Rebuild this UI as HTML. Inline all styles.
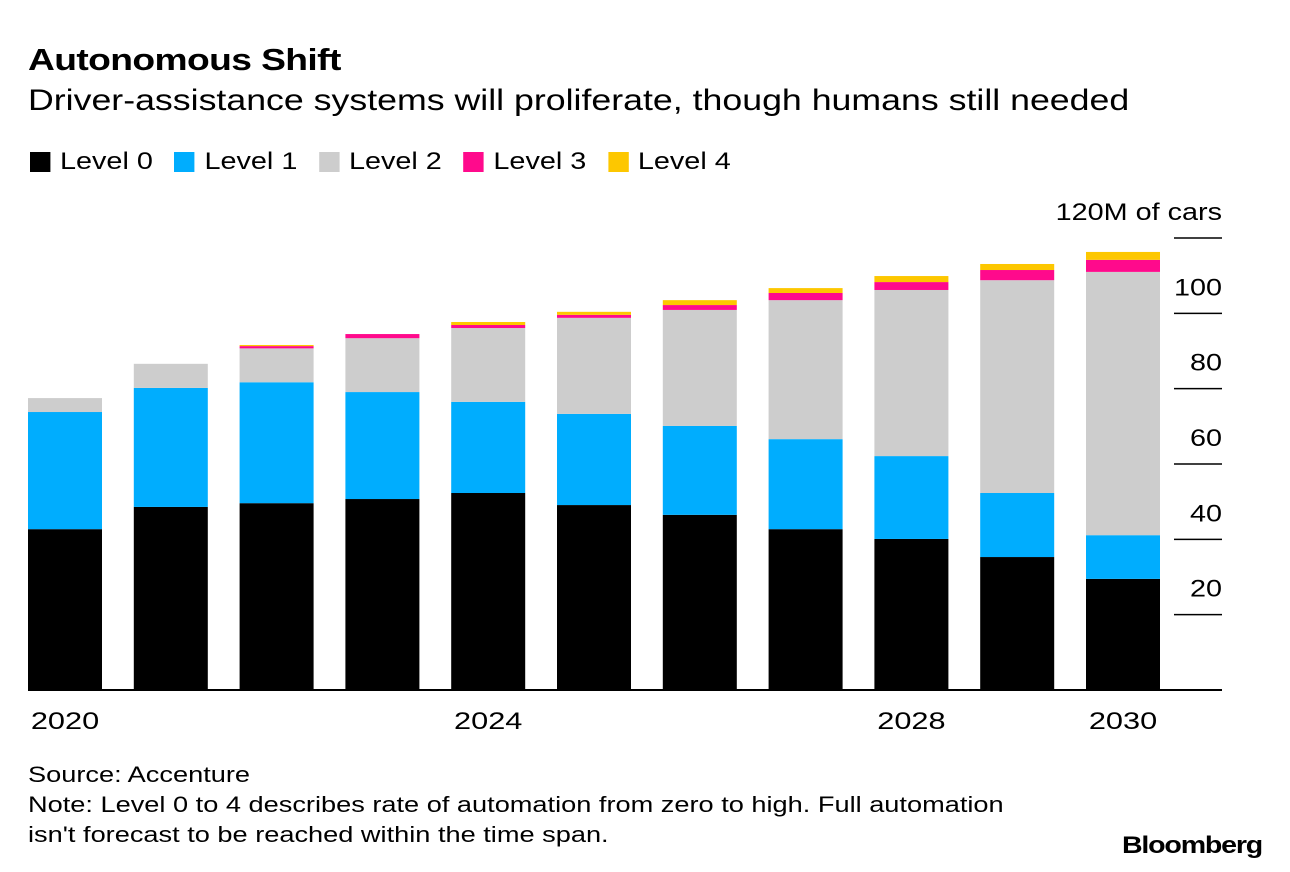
<!DOCTYPE html>
<html><head><meta charset="utf-8"><style>
body{margin:0;background:#fff;font-family:"Liberation Sans",sans-serif;}
#wrap{position:relative;width:1290px;height:872px;overflow:hidden;}
.t{position:absolute;white-space:nowrap;color:#000;transform-origin:0 0;}
</style></head><body><div id="wrap">
<div class="t" style="left:28px;top:42px;font-size:31px;font-weight:bold;letter-spacing:-0.5px;transform:scaleX(1.2)">Autonomous Shift</div>
<div class="t" style="left:28px;top:84px;font-size:30px;transform:scaleX(1.19)">Driver-assistance systems will proliferate, though humans still needed</div>
<div id="legend" style="position:absolute;left:30px;top:148px;font-size:24px;display:flex;gap:0;transform-origin:0 0;transform:scaleX(1.2)"></div>
<svg id="chart" width="1290" height="872" style="position:absolute;left:0;top:0"></svg>
<div class="t" style="left:28px;top:760px;font-size:22px;line-height:30px;transform:scaleX(1.235)">Source: Accenture<br>Note: Level 0 to 4 describes rate of automation from zero to high. Full automation<br>isn't forecast to be reached within the time span.</div>
<div class="t" style="left:1122px;top:832px;font-size:24px;font-weight:bold;letter-spacing:-1px;transform:scaleX(1.19)">Bloomberg</div>
</div>
<script>
const years=[2020,2021,2022,2023,2024,2025,2026,2027,2028,2029,2030];
const xLabels=["2020","","","","2024","","","","2028","","2030"];
const level0=[42.7,48.6,49.6,50.7,52.3,49.1,46.5,42.7,40.1,35.3,29.5];
const level1=[31.1,31.6,32.1,28.4,24.2,24.2,23.6,23.9,22.0,17.0,11.6];
const level2=[3.7,6.4,9.0,14.3,19.6,25.5,30.8,36.9,44.1,56.5,69.9];
const level3=[0,0,0.6,1.1,0.8,0.8,1.3,1.9,2.1,2.7,3.2];
const level4=[0,0,0.3,0,0.8,0.8,1.3,1.3,1.6,1.6,2.1];
const seriesNames=["Level 0","Level 1","Level 2","Level 3","Level 4"];
const colors=["#000000","#00adfe","#cdcdcd","#ff0a8c","#fdc700"];
const yTicks=[20,40,60,80,100,120];
const NS="http://www.w3.org/2000/svg";
const svg=document.getElementById('chart');
const base=690,top0=238,yMax=120,x0=28,pitch=105.8,bw=74;
const y=v=>base-(v/yMax)*(base-top0);
const x=i=>x0+i*pitch;
function mk(t,a){const e=document.createElementNS(NS,t);for(const k in a)e.setAttribute(k,a[k]);svg.appendChild(e);return e;}
const series=[level0,level1,level2,level3,level4];
years.forEach((yr,i)=>{let cum=0;series.forEach((s,k)=>{const v=s[i];if(v<=0)return;
const r=mk('rect',{x:x(i),y:y(cum+v),width:bw,height:y(cum)-y(cum+v),fill:colors[k]});

cum+=v;});
if(xLabels[i]){const t=mk('text',{x:0,y:0,transform:'translate('+(x(i)+bw/2)+',729) scale(1.28,1)','font-size':24,'text-anchor':'middle','font-family':'Liberation Sans'});t.textContent=xLabels[i];

}});
yTicks.forEach(v=>{const l=mk('line',{x1:1174,x2:1222,y1:y(v),y2:y(v),stroke:'#000','stroke-width':1.5});


const t=mk('text',{x:0,y:0,transform:'translate(1222,'+(y(v)-18)+') scale(1.2,1)','font-size':24,'text-anchor':'end','font-family':'Liberation Sans'});
t.textContent=v===120?'120M of cars':String(v);

});
const bl=mk('line',{x1:28,x2:1222,y1:base,y2:base,stroke:'#000','stroke-width':2});


const lg=document.getElementById('legend');
seriesNames.forEach((n,k)=>{const d=document.createElement('div');


d.style.cssText='display:flex;align-items:center;margin-right:18px';
d.innerHTML='<span style="display:inline-block;width:17px;height:20px;background:'+colors[k]+';margin-right:8px"></span>'+n;lg.appendChild(d);});
</script></body></html>
